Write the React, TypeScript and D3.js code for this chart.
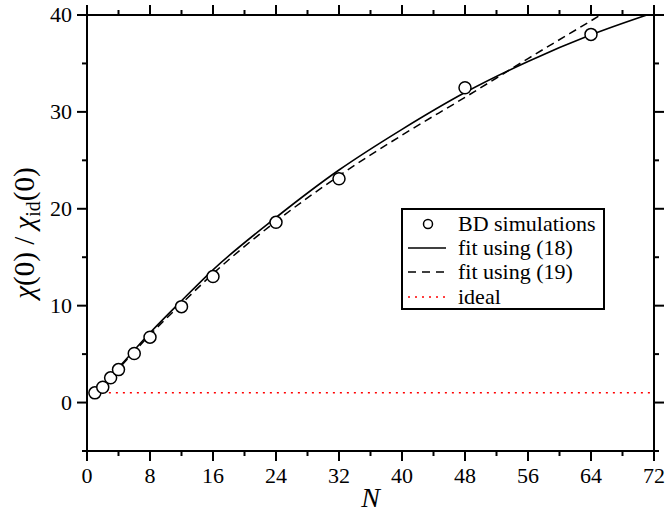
import React from "react";
import * as d3 from "d3";

const simN = [1, 2, 3, 4, 6, 8, 12, 16, 24, 32, 48, 64];
const simChi = [1.0, 1.58, 2.55, 3.4, 5.06, 6.75, 9.9, 13.0, 18.6, 23.1, 32.5, 38.0];

const fit18N = [1, 2, 4, 8, 12, 16, 24, 32, 40, 48, 56, 64, 72];
const fit18Chi = [1.0, 1.9, 3.6, 7.2, 10.5, 13.7, 19.1, 24.0, 28.2, 32.0, 35.2, 37.95, 40.25];

const fit19N = [1, 2, 4, 8, 12, 16, 24, 32, 40, 48, 56, 64, 72];
const fit19Chi = [1.0, 1.85, 3.5, 7.0, 10.2, 13.3, 18.7, 23.4, 27.6, 31.5, 35.5, 39.4, 43.3];

const idealN = [1, 72];
const idealChi = [1, 1];

const xMajor = [0, 8, 16, 24, 32, 40, 48, 56, 64, 72];
const xMinor = [4, 12, 20, 28, 36, 44, 52, 60, 68];
const yMajor = [0, 10, 20, 30, 40];
const yMinor = [-5, 5, 15, 25, 35];

const legendLabels = ["BD simulations", "fit using (18)", "fit using (19)", "ideal"];

export default function App() {
  const W = 665, H = 515;
  const L = 87, R = 654, T = 15, B = 451;
  const x = d3.scaleLinear().domain([0, 72]).range([L, R]);
  const y = d3.scaleLinear().domain([-5, 40]).range([B, T]);
  const line = d3
    .line<[number, number]>()
    .x((d) => x(d[0]))
    .y((d) => y(d[1]))
    .curve(d3.curveMonotoneX);
  const zip = (a: number[], b: number[]) => a.map((v, i) => [v, b[i]] as [number, number]);
  const font = "Liberation Serif";
  const fs = { fontFamily: font };
  const major = 10, minor = 5;
  const lx = 402, ly = 209, lw = 202, lh = 100;
  const rows = [224, 248, 272, 297];

  return (
    <svg width={W} height={H} style={{ position: "fixed", left: 0, top: 0, background: "#fff" }}>
      <defs>
        <clipPath id="plot">
          <rect x={L} y={T} width={R - L} height={B - T} />
        </clipPath>
      </defs>
      <rect x={0} y={0} width={W} height={H} fill="#fff" />
      <g clipPath="url(#plot)">
        <path d={line(zip(idealN, idealChi)) || ""} fill="none" stroke="#ff0000" strokeWidth={1.5} strokeDasharray="2,5" />
        <path d={line(zip(fit19N, fit19Chi)) || ""} fill="none" stroke="#000" strokeWidth={1.5} strokeDasharray="8,5" />
        <path d={line(zip(fit18N, fit18Chi)) || ""} fill="none" stroke="#000" strokeWidth={1.6} />
        {simN.map((n, i) => (
          <circle key={i} cx={x(n)} cy={y(simChi[i])} r={6} fill="#fff" stroke="#000" strokeWidth={1.5} />
        ))}
      </g>
      <rect x={L} y={T} width={R - L} height={B - T} fill="none" stroke="#000" strokeWidth={2} />
      {xMajor.map((v) => (
        <g key={"xm" + v}>
          <line x1={x(v)} x2={x(v)} y1={B} y2={B + major} stroke="#000" strokeWidth={2} />
          <line x1={x(v)} x2={x(v)} y1={T} y2={T - major} stroke="#000" strokeWidth={2} />
          <text x={x(v)} y={B + 32} fontSize={22} textAnchor="middle" style={fs}>{v}</text>
        </g>
      ))}
      {xMinor.map((v) => (
        <g key={"xn" + v}>
          <line x1={x(v)} x2={x(v)} y1={B} y2={B + minor} stroke="#000" strokeWidth={2} />
          <line x1={x(v)} x2={x(v)} y1={T} y2={T - minor} stroke="#000" strokeWidth={2} />
        </g>
      ))}
      {yMajor.map((v) => (
        <g key={"ym" + v}>
          <line x1={L} x2={L - major} y1={y(v)} y2={y(v)} stroke="#000" strokeWidth={2} />
          <line x1={R} x2={R + major} y1={y(v)} y2={y(v)} stroke="#000" strokeWidth={2} />
          <text x={L - 15} y={y(v) + 7} fontSize={22} textAnchor="end" style={fs}>{v}</text>
        </g>
      ))}
      {yMinor.map((v) => (
        <g key={"yn" + v}>
          <line x1={L} x2={L - minor} y1={y(v)} y2={y(v)} stroke="#000" strokeWidth={2} />
          <line x1={R} x2={R + minor} y1={y(v)} y2={y(v)} stroke="#000" strokeWidth={2} />
        </g>
      ))}
      <text x={(L + R) / 2} y={507} fontSize={28} fontStyle="italic" textAnchor="middle" style={fs}>N</text>
      <text transform={`translate(34,${(T + B) / 2}) rotate(-90)`} fontSize={29} textAnchor="middle" style={fs}>
        <tspan fontStyle="italic">χ</tspan>(0) / <tspan fontStyle="italic">χ</tspan><tspan fontSize={20} dy={6}>id</tspan><tspan dy={-6}>(0)</tspan>
      </text>
      <rect x={lx} y={ly} width={lw} height={lh} fill="#fff" stroke="#000" strokeWidth={2} />
      <circle cx={428} cy={rows[0]} r={4.5} fill="#fff" stroke="#000" strokeWidth={1.5} />
      <line x1={408} x2={446} y1={rows[1]} y2={rows[1]} stroke="#000" strokeWidth={1.6} />
      <line x1={408} x2={446} y1={rows[2]} y2={rows[2]} stroke="#000" strokeWidth={1.5} strokeDasharray="8,6" />
      <line x1={408} x2={446} y1={rows[3]} y2={rows[3]} stroke="#ff0000" strokeWidth={1.5} strokeDasharray="2,5" />
      {legendLabels.map((t, i) => (
        <text key={t} x={458} y={rows[i] + 7} fontSize={22} style={fs}>{t}</text>
      ))}
    </svg>
  );
}
